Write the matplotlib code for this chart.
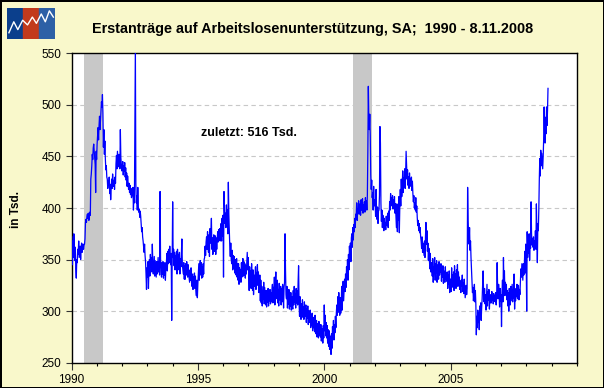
import pandas as pd
import matplotlib
matplotlib.use("Agg")
import matplotlib.pyplot as plt
import matplotlib.dates as mdates
from matplotlib.patches import Rectangle

plt.rcParams['font.family'] = ['Liberation Sans', 'DejaVu Sans']

# weekly initial claims, thousands
claims_1990 = [372, 345, 368, 352, 375, 358, 349, 362, 341, 332, 350, 347, 360, 355, 368, 352, 358, 363, 350, 361,
               366, 357, 362, 365, 360, 364, 365, 370, 386, 389, 386, 392, 394, 390, 395, 388, 391, 396, 393, 428,
               433, 441, 452, 447, 458, 462, 455, 449, 442, 415, 455, 447]
claims_1991 = [462, 471, 478, 466, 480, 489, 476, 485, 495, 503, 498, 510, 492, 459, 476, 452, 465, 448, 437, 441,
               430, 428, 419, 426, 422, 430, 414, 423, 408, 418, 428, 419, 433, 425, 421, 427, 418, 430, 424, 443,
               451, 438, 455, 447, 440, 452, 445, 438, 476, 449, 442, 436]
claims_1992 = [438, 445, 432, 441, 436, 444, 430, 439, 427, 434, 421, 431, 425, 418, 424, 415, 422, 413, 419, 410,
               416, 412, 420, 398, 412, 405, 477, 556, 424, 405, 412, 398, 420, 402, 396, 399, 391, 397, 392, 384,
               377, 381, 372, 368, 362, 357, 365, 354, 348, 336, 321, 342]
claims_1993 = [333, 348, 322, 341, 350, 334, 355, 343, 352, 338, 365, 347, 336, 344, 353, 334, 349, 341, 333, 348,
               336, 345, 352, 338, 348, 335, 416, 350, 339, 333, 347, 336, 348, 332, 344, 335, 347, 330, 342, 346,
               356, 339, 358, 346, 360, 347, 363, 350, 345, 356, 291, 351]
claims_1994 = [406, 352, 360, 344, 357, 340, 354, 345, 358, 336, 360, 343, 355, 340, 357, 336, 351, 343, 355, 370,
               345, 340, 336, 347, 331, 344, 331, 346, 335, 348, 337, 333, 345, 336, 332, 328, 340, 330, 342, 332,
               324, 336, 321, 333, 326, 337, 322, 334, 320, 315, 330, 313, 326]
claims_1995 = [336, 346, 330, 343, 349, 335, 347, 332, 343, 333, 346, 336, 350, 352, 363, 354, 367, 372, 360, 377,
               363, 357, 374, 353, 380, 366, 375, 390, 360, 371, 355, 368, 374, 358, 362, 373, 355, 371, 360, 370,
               377, 367, 379, 370, 380, 368, 378, 385, 368, 390, 373, 393]
claims_1996 = [333, 416, 398, 385, 395, 381, 403, 387, 398, 375, 425, 394, 379, 362, 353, 366, 350, 346, 359, 340,
               354, 342, 353, 337, 350, 339, 335, 351, 333, 346, 330, 346, 326, 342, 332, 340, 328, 347, 333, 344,
               351, 334, 348, 335, 346, 332, 344, 336, 347, 357, 340, 352]
claims_1997 = [335, 320, 343, 326, 339, 322, 346, 328, 320, 340, 316, 335, 324, 332, 343, 321, 337, 336, 345, 325,
               338, 318, 323, 335, 310, 330, 308, 324, 305, 320, 312, 328, 307, 323, 314, 306, 320, 304, 317, 309,
               322, 305, 319, 310, 321, 307, 318, 309, 320, 326, 308, 323]
claims_1998 = [318, 333, 306, 326, 338, 320, 312, 330, 308, 321, 305, 327, 311, 319, 324, 306, 322, 309, 326, 316,
               303, 323, 328, 375, 340, 316, 312, 324, 303, 319, 307, 321, 302, 316, 305, 318, 301, 314, 306, 302,
               320, 306, 324, 309, 317, 303, 322, 308, 320, 306, 328, 344]
claims_1999 = [308, 295, 314, 299, 292, 307, 296, 311, 294, 304, 292, 309, 297, 295, 306, 289, 302, 293, 305, 287,
               300, 291, 289, 301, 284, 296, 286, 298, 281, 294, 284, 292, 280, 296, 283, 278, 291, 275, 288, 280,
               274, 290, 277, 286, 275, 287, 271, 283, 281, 269, 286, 274]
claims_2000 = [306, 281, 296, 276, 289, 274, 286, 269, 282, 266, 281, 263, 276, 268, 258, 278, 264, 285, 276, 291,
               272, 287, 279, 295, 284, 299, 306, 296, 314, 299, 318, 303, 296, 313, 298, 306, 324, 301, 317, 329,
               310, 320, 331, 319, 336, 323, 343, 334, 350, 330, 355, 340, 363]
claims_2001 = [352, 366, 348, 371, 375, 362, 381, 369, 384, 377, 390, 381, 394, 392, 405, 388, 399, 397, 407, 394,
               402, 404, 393, 408, 398, 402, 409, 395, 403, 398, 406, 396, 410, 401, 407, 398, 412, 455, 518, 486,
               476, 491, 470, 432, 418, 427, 410, 415, 398, 421, 402, 408]
claims_2002 = [405, 392, 418, 396, 389, 401, 385, 397, 398, 412, 479, 463, 405, 387, 398, 381, 393, 384, 378, 390,
               380, 386, 379, 392, 383, 388, 395, 381, 397, 388, 406, 398, 414, 402, 410, 404, 412, 399, 408, 400,
               411, 395, 404, 392, 381, 404, 377, 398, 388, 411, 376, 402]
claims_2003 = [418, 402, 428, 411, 421, 436, 415, 429, 424, 438, 419, 432, 455, 441, 428, 437, 422, 430, 419, 434,
               425, 428, 421, 430, 417, 426, 414, 406, 412, 400, 405, 398, 410, 396, 402, 391, 383, 388, 378, 385,
               376, 381, 372, 368, 361, 372, 357, 366, 360, 354, 368, 352]
claims_2004 = [372, 386, 365, 378, 358, 366, 349, 361, 352, 341, 356, 338, 347, 346, 334, 351, 328, 343, 339, 352,
               330, 346, 337, 349, 328, 341, 345, 331, 348, 335, 340, 338, 346, 329, 342, 333, 344, 327, 339, 336,
               328, 343, 331, 337, 329, 338, 322, 335, 326, 339, 318, 331]
claims_2005 = [331, 319, 342, 326, 335, 323, 338, 320, 344, 329, 336, 322, 340, 331, 345, 324, 338, 327, 333, 321,
               329, 318, 330, 324, 335, 319, 327, 317, 331, 322, 313, 319, 325, 316, 322, 420, 388, 372, 365, 381,
               359, 368, 352, 340, 326, 318, 323, 310, 317, 326, 309, 320, 307]
claims_2006 = [277, 295, 284, 301, 289, 298, 282, 305, 296, 308, 291, 303, 312, 326, 339, 318, 309, 322, 307, 316,
               301, 313, 326, 305, 319, 311, 321, 302, 315, 308, 316, 308, 319, 311, 313, 307, 317, 310, 315, 309,
               318, 306, 314, 347, 321, 312, 326, 318, 304, 322, 310, 316]
claims_2007 = [285, 318, 330, 309, 352, 324, 339, 315, 328, 317, 326, 311, 320, 305, 318, 300, 322, 312, 306, 324,
               310, 318, 326, 309, 321, 313, 336, 302, 318, 310, 322, 314, 326, 312, 318, 325, 311, 321, 316, 329,
               341, 333, 346, 338, 330, 346, 335, 342, 358, 337, 365, 349]
claims_2008 = [300, 377, 352, 368, 356, 375, 349, 365, 361, 406, 375, 364, 370, 362, 372, 359, 368, 365, 378, 360,
               404, 372, 347, 385, 378, 398, 427, 448, 431, 456, 441, 453, 446, 438, 450, 466, 498, 472, 463, 488,
               472, 498, 480, 495, 516]

claims = (claims_1990 + claims_1991 + claims_1992 + claims_1993 + claims_1994 + claims_1995 + claims_1996
          + claims_1997 + claims_1998 + claims_1999 + claims_2000 + claims_2001 + claims_2002 + claims_2003
          + claims_2004 + claims_2005 + claims_2006 + claims_2007 + claims_2008)
weeks = pd.date_range(end="2008-11-08", periods=len(claims), freq="W-SAT")

recessions = [("1990-07-01", "1991-03-25"), ("2001-02-15", "2001-11-25")]
year_labels = ["1990", "1995", "2000", "2005"]
last_value = claims[-1]

bg = "#F9F8CB"
fig = plt.figure(figsize=(6.04, 3.88), dpi=100, facecolor=bg, edgecolor="black", linewidth=2)
ax = fig.add_axes([0.1185, 0.0652, 0.8368, 0.7974])
ax.set_facecolor("white")

for start, end in recessions:
    ax.axvspan(pd.Timestamp(start), pd.Timestamp(end), color="#C8C8C8", lw=0, zorder=1)

for yv in [300, 350, 400, 450, 500]:
    ax.axhline(yv, color="#C8C8C8", lw=0.8, ls=(0, (4, 3)), zorder=0.5)

ax.plot(weeks, claims, color="#0000FF", lw=0.9, zorder=3)

ax.set_xlim(pd.Timestamp("1990-01-01"), pd.Timestamp("2010-01-01"))
ax.set_ylim(250, 550)
ax.set_yticks(range(250, 551, 50))
ax.set_xticks([pd.Timestamp(y + "-01-01") for y in year_labels])
ax.set_xticklabels(year_labels)
ax.xaxis.set_minor_locator(mdates.YearLocator(1))
ax.tick_params(axis="both", labelsize=8.5, direction="out", length=4, width=0.8, color="#333333")
ax.tick_params(axis="x", which="minor", length=2.5, width=0.8)
ax.tick_params(axis="x", which="major", length=5, pad=3)
for s in ax.spines.values():
    s.set_color("black")
    s.set_linewidth(1)

ax.text(pd.Timestamp("1997-01-01"), 473, f"zuletzt: {last_value} Tsd.", ha="center", va="center",
        fontsize=9, fontweight="bold")

fig.text(0.517, 0.925, "Erstanträge auf Arbeitslosenunterstützung, SA;  1990 - 8.11.2008",
         ha="center", va="center", fontsize=10.4, fontweight="bold")
fig.text(0.027, 0.46, "in Tsd.", rotation=90, ha="center", va="center", fontsize=8.5, fontweight="bold")

# small logo in the corner
logo = fig.add_axes([6.5 / 604, 1 - 39 / 388, 48.5 / 604, 31.3 / 388])
logo.set_xlim(0, 3)
logo.set_ylim(0, 1)
logo.axis("off")
for i, c in enumerate(["#0B3F8C", "#C23A1C", "#2D60A6"]):
    logo.add_patch(Rectangle((i + 0.04, 0), 0.92, 1, color=c))
logo.plot([0.15, 0.45, 0.7, 1.0, 1.3, 1.6, 1.85, 2.15, 2.4, 2.65, 2.9],
          [0.2, 0.55, 0.3, 0.6, 0.45, 0.7, 0.5, 0.8, 0.55, 0.9, 0.7], color="white", lw=1)

fig.savefig("out.png", dpi=100, facecolor=bg, edgecolor="black")
